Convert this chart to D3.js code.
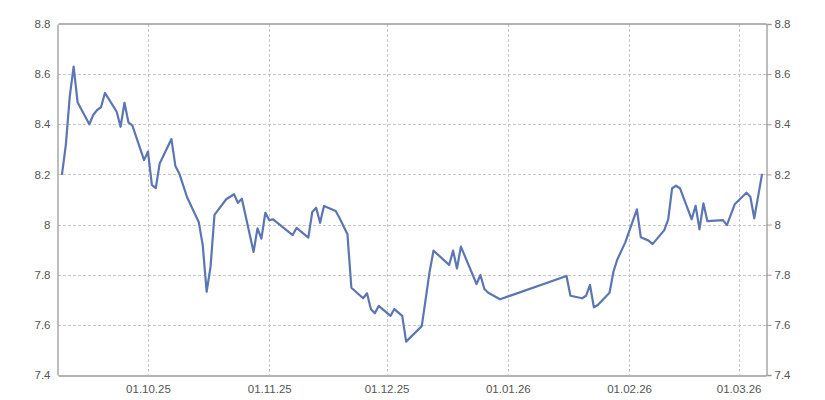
<!DOCTYPE html>
<html>
<head>
<meta charset="utf-8">
<script src="https://cdn.jsdelivr.net/npm/d3@7"></script>
<style>
  body { margin: 0; background: #fff; }
  text { font-family: "Liberation Sans", Arial, sans-serif; font-size: 11.5px; fill: #555; }
</style>
</head>
<body>
<div id="chart"></div>
<script>
// rate values
const dates = [
  "2025-09-09","2025-09-10","2025-09-11","2025-09-12","2025-09-13","2025-09-16","2025-09-17","2025-09-18",
  "2025-09-19","2025-09-20","2025-09-23","2025-09-24","2025-09-25","2025-09-26","2025-09-27","2025-09-30",
  "2025-10-01","2025-10-02","2025-10-03","2025-10-04","2025-10-07","2025-10-08","2025-10-09","2025-10-11",
  "2025-10-14","2025-10-15","2025-10-16","2025-10-17","2025-10-18","2025-10-21","2025-10-23","2025-10-24",
  "2025-10-25","2025-10-28","2025-10-29","2025-10-30","2025-10-31","2025-11-01","2025-11-02","2025-11-07",
  "2025-11-08","2025-11-11","2025-11-12","2025-11-13","2025-11-14","2025-11-15","2025-11-18","2025-11-19",
  "2025-11-21","2025-11-22","2025-11-25","2025-11-26","2025-11-27","2025-11-28","2025-11-29","2025-12-02",
  "2025-12-03","2025-12-05","2025-12-06","2025-12-10","2025-12-12","2025-12-13","2025-12-17","2025-12-18",
  "2025-12-19","2025-12-20","2025-12-24","2025-12-25","2025-12-26","2025-12-27","2025-12-30","2026-01-16",
  "2026-01-17","2026-01-20","2026-01-21","2026-01-22","2026-01-23","2026-01-24","2026-01-27","2026-01-28",
  "2026-01-29","2026-01-31","2026-02-03","2026-02-04","2026-02-06","2026-02-07","2026-02-10","2026-02-11",
  "2026-02-12","2026-02-13","2026-02-14","2026-02-17","2026-02-18","2026-02-19","2026-02-20","2026-02-21",
  "2026-02-25","2026-02-26","2026-02-28","2026-03-03","2026-03-04","2026-03-05","2026-03-07"
];

const values = [
  8.198, 8.317, 8.51, 8.63, 8.488, 8.40, 8.437, 8.457,
  8.468, 8.525, 8.45, 8.39, 8.486, 8.408, 8.396, 8.257,
  8.291, 8.158, 8.145, 8.244, 8.341, 8.234, 8.204, 8.109,
  8.009, 7.918, 7.732, 7.832, 8.039, 8.101, 8.121, 8.087,
  8.103, 7.891, 7.985, 7.944, 8.047, 8.018, 8.021, 7.958,
  7.987, 7.948, 8.05, 8.067, 8.007, 8.074, 8.054, 8.025,
  7.961, 7.748, 7.706, 7.726, 7.662, 7.646, 7.676, 7.636,
  7.663, 7.636, 7.533, 7.595, 7.812, 7.896, 7.839, 7.896,
  7.825, 7.912, 7.763, 7.799, 7.743, 7.728, 7.702, 7.795,
  7.716, 7.706, 7.716, 7.759, 7.67, 7.679, 7.728, 7.812,
  7.861, 7.928, 8.061, 7.949, 7.936, 7.922, 7.978, 8.021,
  8.145, 8.155, 8.145, 8.021, 8.075, 7.981, 8.085, 8.014,
  8.018, 7.998, 8.081, 8.127, 8.111, 8.025, 8.202
];

const yTicks = [7.4, 7.6, 7.8, 8, 8.2, 8.4, 8.6, 8.8];
const xTicks = ["2025-10-01","2025-11-01","2025-12-01","2026-01-01","2026-02-01","2026-03-01"];
const xDomain = ["2025-09-08","2026-03-08"];

const width = 825, height = 400;
const margin = {top: 24, right: 59, bottom: 25, left: 58};

const parse = d3.timeParse("%Y-%m-%d");
const data = dates.map((d, i) => ({date: parse(d), value: values[i]}));

const svg = d3.select("#chart").append("svg")
  .attr("width", width)
  .attr("height", height);

const x = d3.scaleTime()
  .domain(xDomain.map(parse))
  .range([margin.left, width - margin.right]);

const y = d3.scaleLinear()
  .domain([7.4, 8.8])
  .range([height - margin.bottom, margin.top]);

// grid lines
const grid = svg.append("g")
  .attr("stroke", "#c8c8c8")
  .attr("stroke-dasharray", "3,2")
  .attr("shape-rendering", "crispEdges");

grid.selectAll(".gy")
  .data(yTicks.slice(1, -1))
  .enter().append("line")
  .attr("x1", margin.left).attr("x2", width - margin.right)
  .attr("y1", d => Math.round(y(d)) + 0.5).attr("y2", d => Math.round(y(d)) + 0.5);

grid.selectAll(".gx")
  .data(xTicks.map(parse))
  .enter().append("line")
  .attr("y1", margin.top).attr("y2", height - margin.bottom)
  .attr("x1", d => Math.round(x(d)) + 0.5).attr("x2", d => Math.round(x(d)) + 0.5);

// left axis (labels only)
const leftAxis = svg.append("g")
  .attr("transform", `translate(${margin.left - 0.5},0)`)
  .call(d3.axisLeft(y).tickValues(yTicks).tickSize(0).tickPadding(7).tickFormat(d3.format("~g")));

// right axis with short outer ticks
const rightAxis = svg.append("g")
  .attr("transform", `translate(${width - margin.right + 0.5},0)`)
  .call(d3.axisRight(y).tickValues(yTicks).tickSize(5).tickPadding(3).tickFormat(d3.format("~g")));

// bottom axis
const bottomAxis = svg.append("g")
  .attr("transform", `translate(0,${height - margin.bottom + 0.5})`)
  .call(d3.axisBottom(x).tickValues(xTicks.map(parse)).tickSize(0).tickPadding(9).tickFormat(d3.timeFormat("%d.%m.%y")));

// top border
const topAxis = svg.append("g")
  .attr("transform", `translate(0,${margin.top - 0.5})`)
  .call(d3.axisTop(x).tickValues([]).tickSizeOuter(0));

[leftAxis, rightAxis, bottomAxis, topAxis].forEach(g => {
  g.select(".domain").attr("stroke", "#9a9a9a").attr("stroke-width", 1.3);
  g.selectAll(".tick line").attr("stroke", "#9a9a9a");
  g.selectAll("text").attr("font-family", null).attr("font-size", null);
});

// the rate line
const line = d3.line()
  .x(d => x(d.date))
  .y(d => y(d.value));

svg.append("path")
  .datum(data)
  .attr("fill", "none")
  .attr("stroke", "#5b76b2")
  .attr("stroke-width", 2.2)
  .attr("stroke-linejoin", "round")
  .attr("d", line);
</script>
</body>
</html>
